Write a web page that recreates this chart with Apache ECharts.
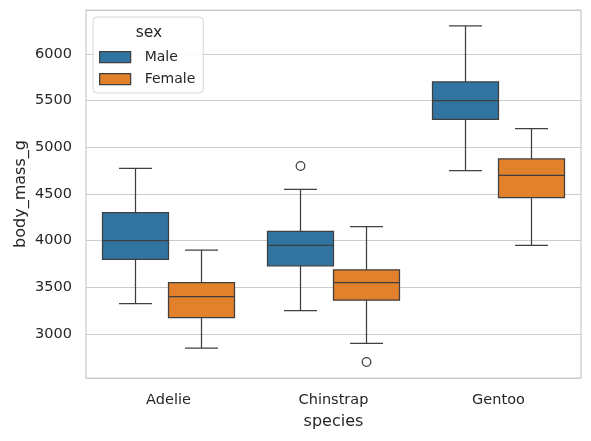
<!DOCTYPE html>
<html>
<head>
<meta charset="utf-8">
<script src="https://cdn.jsdelivr.net/npm/echarts@6/dist/echarts.min.js"></script>
<style>
  html, body { margin: 0; padding: 0; background: #fff; }
  #chart { width: 591px; height: 441px; }
</style>
</head>
<body>
<div id="chart"></div>
<script>
// penguins body mass by species and sex
var species = ['Adelie', 'Chinstrap', 'Gentoo'];
var sexes = ['Male', 'Female'];
var colors = ['#3274a1', '#e1812c'];

// [low whisker, q1, median, q3, high whisker]
var maleBoxes = [
  [3325, 3800, 4000, 4300, 4775],
  [3250, 3731, 3950, 4100, 4550],
  [4750, 5300, 5500, 5700, 6300]
];
var femaleBoxes = [
  [2850, 3175, 3400, 3550, 3900],
  [2900, 3362, 3550, 3688, 4150],
  [3950, 4462, 4700, 4875, 5200]
];
// outliers: [species index, value]
var maleOutliers = [[1, 4800]];
var femaleOutliers = [[1, 2700]];

var yTicks = [3000, 3500, 4000, 4500, 5000, 5500, 6000];

var lineColor = '#3f3f3f';
var textColor = '#262626';
var font = 'DejaVu Sans';

function boxRenderer(seriesIdx) {
  return function (params, api) {
    var cat = api.value(0);
    var band = api.size([1, 0])[0];
    var w = band * 0.4;
    var off = (seriesIdx === 0 ? -0.5 : 0.5) * w;
    var cx = api.coord([cat, 0])[0] + off;
    var lo = api.coord([cat, api.value(1)])[1];
    var q1 = api.coord([cat, api.value(2)])[1];
    var md = api.coord([cat, api.value(3)])[1];
    var q3 = api.coord([cat, api.value(4)])[1];
    var hi = api.coord([cat, api.value(5)])[1];
    var ls = { stroke: lineColor, lineWidth: 1.25 };
    return {
      type: 'group',
      children: [
        { type: 'line', shape: { x1: cx, y1: q3, x2: cx, y2: hi }, style: ls },
        { type: 'line', shape: { x1: cx, y1: q1, x2: cx, y2: lo }, style: ls },
        { type: 'line', shape: { x1: cx - w / 4, y1: hi, x2: cx + w / 4, y2: hi }, style: ls },
        { type: 'line', shape: { x1: cx - w / 4, y1: lo, x2: cx + w / 4, y2: lo }, style: ls },
        { type: 'rect', shape: { x: cx - w / 2, y: q3, width: w, height: q1 - q3 },
          style: { fill: colors[seriesIdx], stroke: lineColor, lineWidth: 1.25 } },
        { type: 'line', shape: { x1: cx - w / 2, y1: md, x2: cx + w / 2, y2: md }, style: ls }
      ]
    };
  };
}

function outlierRenderer(seriesIdx) {
  return function (params, api) {
    var cat = api.value(0);
    var band = api.size([1, 0])[0];
    var w = band * 0.4;
    var off = (seriesIdx === 0 ? -0.5 : 0.5) * w;
    var p = api.coord([cat, api.value(1)]);
    return {
      type: 'circle',
      shape: { cx: p[0] + off, cy: p[1], r: 4.3 },
      style: { fill: 'none', stroke: lineColor, lineWidth: 1.25 }
    };
  };
}

function withIndex(boxes) {
  return boxes.map(function (b, i) { return [i].concat(b); });
}

var chart = echarts.init(document.getElementById('chart'), null, { renderer: 'canvas' });

chart.setOption({
  animation: false,
  backgroundColor: '#ffffff',
  textStyle: { fontFamily: font, color: textColor },
  grid: {
    left: 86, right: 10, top: 10, bottom: 63,
    show: true, borderColor: '#cccccc', borderWidth: 1.25, backgroundColor: 'transparent'
  },
  xAxis: {
    type: 'category',
    data: species,
    name: 'species',
    nameLocation: 'middle',
    nameGap: 36,
    nameMoveOverlap: false,
    nameTextStyle: { fontFamily: font, fontSize: 16, color: textColor },
    axisLine: { show: false },
    axisTick: { show: false },
    axisLabel: { fontFamily: font, fontSize: 14.5, color: textColor, margin: 15 },
    splitLine: { show: false }
  },
  yAxis: {
    type: 'value',
    min: 2529,
    max: 6471,
    splitNumber: 8,
    name: 'body_mass_g',
    nameLocation: 'middle',
    nameGap: 57,
    nameMoveOverlap: false,
    nameTextStyle: { fontFamily: font, fontSize: 16, color: textColor },
    axisLine: { show: false },
    axisTick: { show: false },
    axisLabel: {
      fontFamily: font, fontSize: 14.5, color: textColor, margin: 14,
      showMinLabel: false, showMaxLabel: false,
      formatter: function (v) { return yTicks.indexOf(v) >= 0 ? String(v) : ''; }
    },
    splitLine: { show: true, lineStyle: { color: '#cccccc', width: 1.1 } }
  },
  legend: {
    orient: 'vertical',
    left: 93,
    top: 17,
    padding: [32, 8, 6, 6],
    itemGap: 6,
    itemWidth: 31,
    itemHeight: 11,
    borderColor: '#d6d6d6',
    borderWidth: 1,
    borderRadius: 4,
    backgroundColor: 'rgba(255,255,255,0.85)',
    textStyle: {
      fontFamily: font, fontSize: 14, color: textColor, lineHeight: 16,
      padding: [0, 0, 0, 9]
    },
    data: sexes.map(function (s, i) {
      return {
        name: s,
        icon: 'rect',
        itemStyle: { color: colors[i], borderColor: lineColor, borderWidth: 1.25 }
      };
    })
  },
  graphic: [{
    type: 'text',
    z: 100,
    x: 149,
    y: 33,
    style: {
      text: 'sex', fontFamily: font, fontSize: 15.5, fill: textColor,
      align: 'center', verticalAlign: 'middle'
    }
  }],
  series: [
    {
      name: 'Male', type: 'custom', renderItem: boxRenderer(0),
      itemStyle: { color: colors[0] },
      encode: { x: 0, y: [1, 2, 3, 4, 5] },
      data: withIndex(maleBoxes)
    },
    {
      name: 'Female', type: 'custom', renderItem: boxRenderer(1),
      itemStyle: { color: colors[1] },
      encode: { x: 0, y: [1, 2, 3, 4, 5] },
      data: withIndex(femaleBoxes)
    },
    {
      name: 'Male', type: 'custom', renderItem: outlierRenderer(0),
      encode: { x: 0, y: 1 },
      data: maleOutliers
    },
    {
      name: 'Female', type: 'custom', renderItem: outlierRenderer(1),
      encode: { x: 0, y: 1 },
      data: femaleOutliers
    }
  ]
});
</script>
</body>
</html>
